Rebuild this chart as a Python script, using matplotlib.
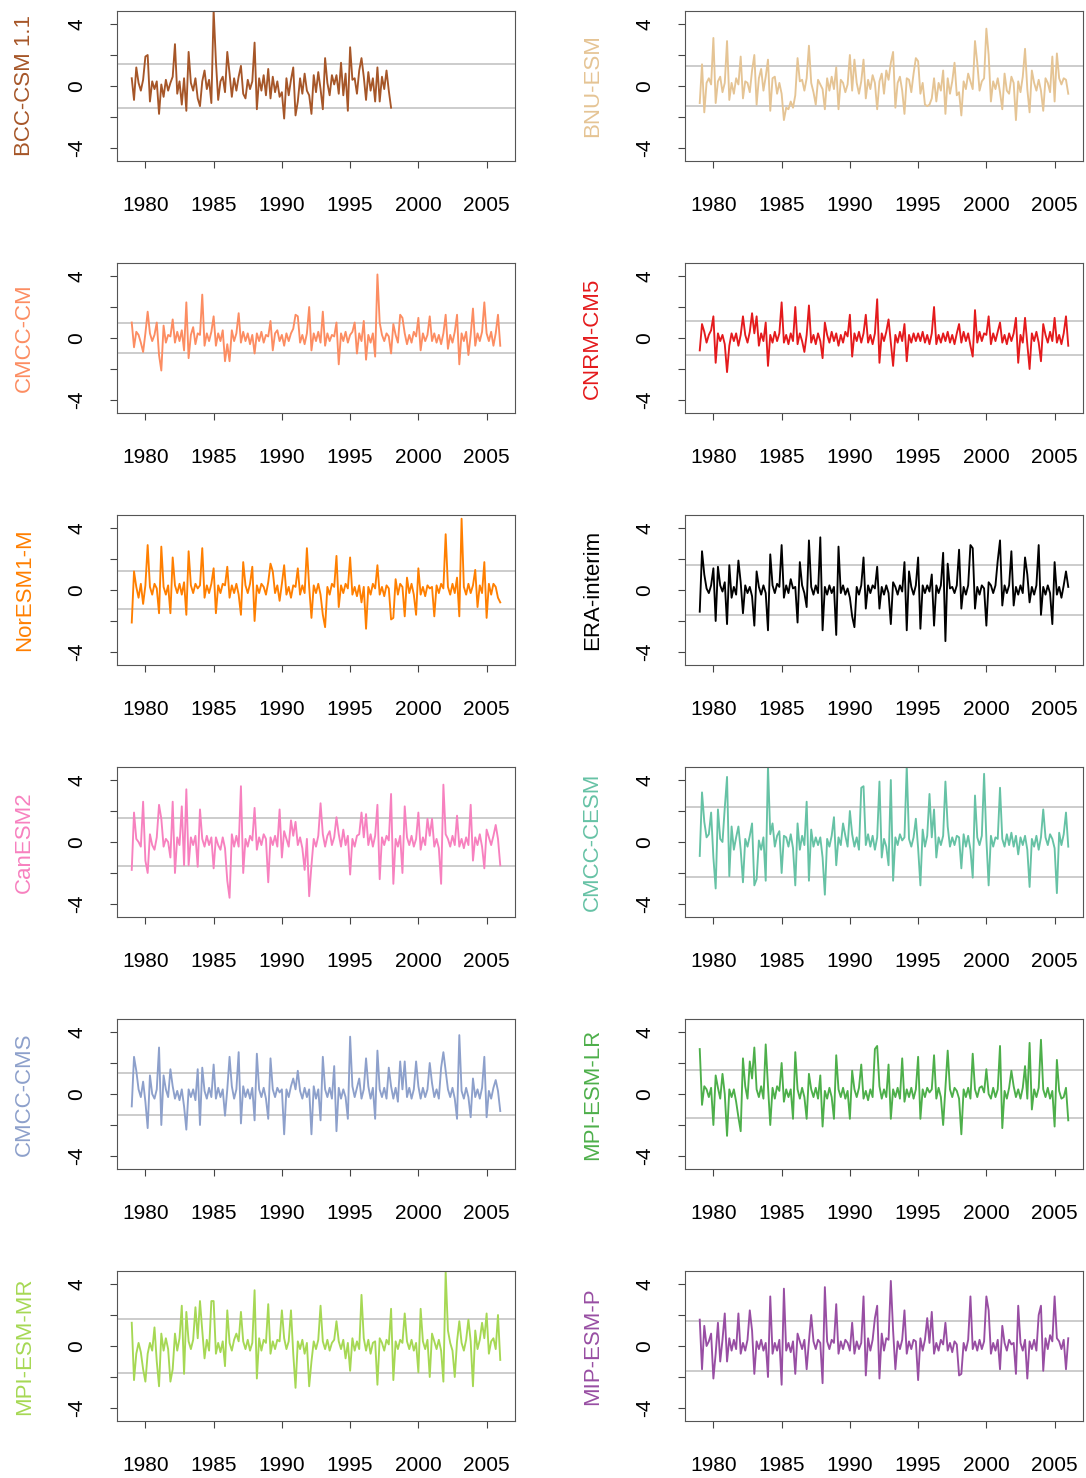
import numpy as np
import matplotlib
matplotlib.use('Agg')
import matplotlib.pyplot as plt

plt.rcParams['font.family'] = ['Liberation Sans', 'DejaVu Sans']

# Time axis: values every 2 months starting January 1979
start_year = 1979
steps_per_year = 6
year_ticks = [1980, 1985, 1990, 1995, 2000, 2005]

models = ['BCC-CSM 1.1', 'BNU-ESM', 'CMCC-CM', 'CNRM-CM5', 'NorESM1-M',
          'ERA-interim', 'CanESM2', 'CMCC-CESM', 'CMCC-CMS', 'MPI-ESM-LR',
          'MPI-ESM-MR', 'MIP-ESM-P']
colors = ['#A65628', '#E5C494', '#FC8D62', '#E41A1C', '#FF7F00', '#000000',
          '#F781BF', '#66C2A5', '#8DA0CB', '#4DAF4A', '#A6D854', '#984EA3']
thresholds = [1.4, 1.32, 1.0, 1.07, 1.25, 1.61,
              1.56, 2.27, 1.38, 1.58, 1.73, 1.63]

bcc = [0.5, -0.9, 1.2, 0.2, -0.3, 0.4, 1.9, 2.0, -1.0, 0.3, -0.2, 0.3,
       -1.8, 0.1, -0.7, 0.4, -0.3, 0.2, 0.6, 2.7, -0.5, 0.3, -1.2, 0.5,
       -1.6, 2.2, 0.2, -0.3, 0.5, -0.8, -1.3, 0.3, 1.0, -0.2, 0.4, -1.1,
       4.9, 1.6, -0.9, 0.3, 0.6, -0.4, 2.2, 0.8, -0.7, 0.5, -0.3, 0.6,
       1.3, -0.5, -0.8, 0.4, -0.2, 0.3, 2.8, -1.5, 0.5, -0.3, 0.7, -0.6,
       1.1, -0.8, 0.6, -0.4, 0.3, -0.7, -0.4, -2.1, 0.5, -0.6, 0.4, 1.2,
       -1.9, -1.0, 0.5, -0.5, 0.8, -0.3, -0.6, -1.8, 0.7, -0.4, 0.9, -0.2,
       -1.5, 1.8, 0.2, -0.6, 0.7, 0.1, 0.7, -0.5, 1.5, -0.6, 0.8, -1.6,
       2.5, 0.4, 0.5, -0.5, 1.0, 1.8, 0.6, -0.9, 0.9, -0.3, 0.5, -1.0,
       1.2, -1.0, 0.6, -0.2, 1.0, -0.3, -1.4]

bnu = [-1.1, 1.4, -1.7, 0.2, 0.5, 0.1, 3.1, -1.1, 0.3, 0.6, -0.4, 0.2,
       2.9, -0.9, 0.2, -0.5, 0.5, 0.1, 1.9, -0.8, 0.3, 0.2, -0.4, 1.0,
       2.0, -1.2, 0.5, 1.1, -0.3, 0.6, 1.7, -1.6, 0.5, 0.6, -0.5, 0.2,
       -0.5, -2.2, -1.4, -1.5, -1.0, -1.4, -0.6, 1.8, 0.3, 0.4, -0.3, 0.5,
       2.6, 0.2, -0.4, -1.2, 0.4, 0.1, -0.2, -1.5, 0.5, -0.3, 0.6, -0.2,
       1.2, -1.5, 0.4, 0.2, -0.4, 0.1, 2.0, -0.3, 1.7, 0.2, -0.5, 0.3,
       1.7, -0.8, 0.4, -0.2, 0.7, 0.2, -1.5, 0.3, 0.8, -0.5, 1.0, 0.4,
       1.5, 2.2, -1.4, 0.2, 0.6, -0.3, -1.8, 0.5, 0.4, -0.4, 0.8, 1.8,
       1.6, -0.5, 0.2, -1.2, -1.3, -1.2, -0.8, 0.5, -1.0, 0.2, -0.3, 1.0,
       -1.8, 0.5, -0.5, 0.3, 1.5, -0.6, -0.4, -1.9, 0.3, -0.2, 0.8, 0.3,
       -0.2, 2.9, 1.5, -0.3, 0.3, 0.5, 3.7, 2.0, -1.0, 0.3, -0.2, 0.5,
       -0.4, -1.5, 0.8, -0.3, -0.5, 0.6, 0.2, -2.2, 0.3, -0.4, 0.6, 2.4,
       -0.2, -1.7, 1.0, 0.2, -0.3, 0.4, -0.3, -1.6, 0.5, 0.2, -0.4, 1.9,
       -1.0, 2.1, 0.5, 0.1, 0.5, 0.4, -0.5]

cmcc_cm = [1.0, -0.6, 0.4, 0.2, -0.3, -0.9, 0.3, 1.7, 0.3, -0.2, 0.2, 1.0,
           -1.1, -2.1, 0.8, -0.3, 0.2, 0.1, 1.2, -0.3, 0.4, -0.2, 0.5, -0.8,
           2.3, -1.3, 0.2, 0.7, -0.4, 0.3, 0.2, 2.8, -0.5, 0.3, -0.2, 0.4,
           1.4, -0.5, 0.3, -0.2, 0.5, -1.5, -0.4, -1.5, 0.5, -0.2, 0.3, 1.6,
           -0.3, 0.4, -0.2, 0.3, -0.4, 0.2, -1.0, 0.3, -0.2, 0.4, -0.3, 0.2,
           0.1, 1.1, -0.8, 0.3, 0.5, -0.2, 0.2, -0.5, 0.3, -0.2, 0.3, 0.6,
           1.5, 1.4, -0.3, 0.2, -0.4, 0.3, 2.0, -0.8, 0.3, -0.2, 0.4, -0.3,
           1.7, -0.5, 0.3, -0.2, 0.2, 0.1, 1.0, -1.7, 0.3, -0.2, 0.4, -0.3,
           0.2, 0.4, 1.0, -1.0, 0.3, -0.2, 1.1, -1.4, 0.2, -0.3, 0.3, -1.2,
           4.1, 1.0, 0.2, -0.2, 0.3, 0.1, -1.0, 0.9, 0.2, -0.3, 1.5, 1.3,
           0.3, -0.4, 0.2, -0.3, 0.4, 0.1, 1.3, -0.8, 0.3, -0.2, 0.2, 1.4,
           -0.2, 0.3, -0.3, 0.2, -0.4, 0.3, 1.5, -0.7, 0.2, -0.3, 0.4, 1.5,
           -1.7, 0.3, -0.2, 0.4, -1.1, 0.2, 1.9, -0.5, 0.3, -0.2, 0.4, 2.3,
           0.3, -0.2, 0.4, -0.5, 0.3, 1.5, -0.5]

cnrm = [-0.8, 0.9, 0.4, -0.3, 0.2, 0.5, 1.4, -1.6, 0.3, -0.2, 0.2, -0.4,
        -2.2, -0.5, 0.3, -0.2, 0.3, -0.5, 0.2, 1.4, 0.2, -0.3, 0.4, 1.6,
        0.3, 1.4, -0.5, 0.3, -0.2, 1.0, -1.8, 0.2, -0.3, 0.4, -0.2, 0.3,
        2.3, -0.3, 0.2, -0.4, 0.3, -0.2, 2.0, -0.4, 0.3, -0.2, -0.9, 0.2,
        2.1, -0.3, 0.2, -0.4, 0.3, -0.2, -1.3, 1.0, 0.2, -0.3, 0.4, -0.2,
        0.3, -0.5, 0.2, -0.3, 0.4, 0.1, 1.5, -1.2, 0.3, -0.2, 0.4, -0.3,
        0.3, 1.5, -0.3, 0.2, -0.4, 0.3, 2.5, -1.6, 0.3, -0.2, 0.4, 1.2,
        -0.3, -1.8, 0.2, -0.3, 0.4, -0.2, 0.9, -1.5, 0.2, -0.3, 0.3, -0.2,
        0.3, -0.2, 0.4, -0.3, 0.2, -0.4, 0.3, 2.0, -0.4, 0.2, -0.3, 0.3,
        -0.2, 0.4, -0.3, 0.2, -0.4, 0.3, 0.9, -0.3, 0.4, -0.2, 0.3, -0.5,
        -1.2, 1.8, -0.3, 0.4, -0.2, 0.3, 0.2, 1.4, -0.4, 0.3, -0.2, 0.4,
        1.0, -0.3, 0.2, -0.4, 0.3, -0.2, 0.3, 1.3, -1.6, 0.2, -0.3, 1.3,
        -0.4, -2.0, 0.3, -0.2, 0.4, -0.3, -1.5, 0.9, 0.2, -0.3, 0.4, -0.2,
        1.3, -0.3, 0.2, -0.4, 0.3, 1.4, -0.5]

noresm = [-2.1, 1.2, 0.2, -0.5, 0.4, -0.9, 0.3, 2.9, 0.2, -0.3, 0.4, 0.1,
          -1.5, 2.8, 0.2, -0.3, 0.3, -1.5, 2.1, 0.3, -0.2, 0.4, -0.3, 0.5,
          -1.6, 2.5, 0.3, -0.2, 0.4, 0.1, 0.3, 2.7, -0.5, 0.3, -0.2, 0.4,
          1.4, -1.5, 0.3, -0.2, 0.4, 0.3, 1.5, -0.5, 0.3, -0.2, 0.4, -0.3,
          -1.6, 1.8, 0.3, -0.2, 0.4, 1.5, -2.0, 0.3, -0.2, 0.4, 0.2, -0.3,
          0.5, 1.7, 1.2, -0.2, 0.3, -0.7, 0.4, 1.6, -0.3, 0.2, -0.5, 0.3,
          0.2, 1.4, -0.3, 0.3, -0.2, 2.7, 0.2, -1.8, 0.3, -0.2, 0.4, -0.3,
          -1.6, -2.4, 0.2, -0.3, 0.4, 0.2, 2.2, -1.1, 0.3, -0.2, 0.4, 0.1,
          2.1, -0.3, 0.2, -0.4, 0.3, -0.8, 0.2, -2.5, 0.2, -0.3, 0.4, 0.1,
          1.6, -0.3, 0.2, -0.4, 0.3, 0.1, -1.9, -1.8, 0.7, -0.3, 0.4, 0.2,
          -1.7, 0.8, -0.2, 0.4, -0.3, -1.6, 1.4, -0.3, 0.2, -0.4, 0.3, 0.1,
          0.2, -1.7, 0.3, -0.2, 0.4, 0.1, 3.6, 0.2, -0.3, 0.4, -0.2, 0.8,
          -1.7, 4.6, 0.2, -0.3, 0.4, -0.2, 0.3, 1.3, -1.1, 0.3, -0.2, 1.8,
          -1.8, 0.4, -0.3, 0.4, 0.2, -0.5, -0.8]

era = [-1.4, 2.5, 1.0, 0.1, -0.2, 0.3, 1.4, -2.0, 1.5, 0.3, -0.1, 0.5,
       -2.2, 1.6, -0.5, 0.2, -0.3, 1.9, 0.5, -1.5, 0.3, -0.2, 0.2, -0.4,
       -2.3, 1.2, 0.2, -0.3, 0.3, -0.2, -2.6, 2.3, 0.3, -0.2, 0.4, 0.2,
       2.9, -0.5, 0.3, -0.2, 0.7, 0.1, 0.2, -2.1, 1.8, 0.3, -0.2, -1.1,
       3.2, 0.2, -0.3, 0.3, -0.2, 3.4, -2.6, 0.2, -0.3, 0.3, -0.2, 0.2,
       -2.9, 2.8, -0.2, 0.3, -0.3, 0.1, -0.5, -1.7, -2.4, 0.2, -0.3, 0.3,
       2.1, -1.2, 0.3, -0.2, 0.3, 0.1, 1.5, -1.2, 0.2, -0.3, 0.3, -0.2,
       -2.2, 0.5, 0.2, -0.3, 0.3, -0.1, 1.8, -2.6, 1.2, 0.2, -0.3, 0.3,
       2.1, -2.5, 0.3, -0.2, 0.3, -0.1, 1.0, -2.3, 0.3, -0.2, 0.3, 2.4,
       -3.3, 1.7, 0.1, 0.2, -0.2, 0.3, 2.6, -1.2, 0.2, -0.3, 0.3, 2.9,
       2.7, -1.2, 0.2, -0.3, 0.3, 0.1, -2.3, 0.5, 0.3, -0.2, 0.3, 1.9,
       3.2, -1.0, 0.3, -0.2, 0.3, 2.5, -1.0, 0.2, -0.3, 0.3, -0.2, 2.1,
       1.0, -0.8, 0.2, -0.3, 0.3, 2.9, -1.6, 0.2, -0.3, 0.3, -0.2, -2.2,
       1.8, -0.3, 0.2, -0.5, 0.3, 1.2, 0.2]

canesm = [-1.8, 1.9, 0.2, 0.0, -0.3, 2.6, -1.2, -2.0, 0.5, -0.2, -0.5, 0.3,
          2.4, 1.5, -0.3, 0.2, 0.0, -1.0, 2.6, -2.0, 0.3, -0.2, 2.3, -1.5,
          3.4, -1.5, 0.3, -0.2, 0.4, -1.6, 2.1, 0.2, -0.3, 0.4, -0.2, 0.3,
          -1.7, 0.3, -0.2, -0.5, 0.3, -0.4, -2.5, -3.6, 0.5, -0.3, 0.4, -0.3,
          3.6, -2.0, 0.2, -0.3, 0.4, 0.1, 2.2, -0.5, 0.3, -0.2, 0.5, 0.2,
          -2.6, 0.3, -0.2, 0.4, -0.3, 2.1, -1.0, 0.7, 0.2, -0.3, 1.4, 0.4,
          1.3, -0.2, 0.3, -0.4, -1.8, 0.2, -3.5, -1.5, 0.2, -0.3, 0.4, 2.5,
          0.5, -0.3, 0.4, 0.7, -0.2, 0.3, 1.6, 0.5, -0.3, 0.8, -0.2, 0.4,
          -2.1, 0.2, -0.3, 0.4, 0.5, 1.9, 0.3, 1.8, -0.2, 0.5, -0.3, 0.4,
          2.4, -2.4, 0.3, -0.2, 0.4, 0.1, 3.1, -2.7, 0.2, -0.3, 0.4, -2.0,
          2.3, 0.3, -0.2, 0.4, -0.3, 0.2, 1.9, -0.5, 0.3, -0.2, 1.5, 0.4,
          1.5, -0.3, 0.2, -0.4, -2.7, 3.7, 0.5, 0.2, -0.3, 0.4, -0.2, 1.7,
          -0.3, 0.2, -0.4, 0.3, -0.2, 2.4, -1.2, 0.3, -0.2, 0.5, -0.3, -1.7,
          0.8, 0.3, -0.2, 0.4, 1.1, 0.2, -1.5]

cmcc_cesm = [-0.9, 3.2, 1.3, 0.3, 0.5, 1.9, -1.0, -3.0, 2.1, 0.2, 0.0, 2.2,
             4.2, -2.2, 1.0, -0.5, 0.3, 1.0, -0.5, -2.6, 0.2, -0.3, 0.4, 1.2,
             -2.8, -2.4, 0.1, -0.5, 0.3, -2.5, 4.9, 0.5, 1.2, -0.3, 0.4, 0.7,
             -2.0, 0.4, 0.3, -0.3, 0.5, -0.4, -2.8, 1.2, -0.5, 0.4, -0.2, 2.6,
             -2.5, 0.8, -0.3, 0.3, -0.2, 0.3, -1.0, -3.4, 0.2, -0.3, 0.4, 1.6,
             -1.5, 0.3, -0.2, 1.2, 0.4, -0.3, 2.0, 0.5, -0.3, 0.3, -0.5, 3.5,
             3.6, -0.2, 0.5, -0.3, 0.4, -0.5, 0.3, 3.9, -1.0, 0.2, -0.3, -1.5,
             4.0, -2.5, 0.3, -0.2, 0.5, 0.1, 0.3, 4.9, 0.2, -0.3, 0.3, 1.5,
             -0.4, -2.8, 0.8, -0.3, 0.4, 3.1, 0.3, 2.1, -1.0, 0.3, -0.2, 0.4,
             3.9, 1.0, -0.3, 0.3, -0.2, 0.4, 0.3, -1.7, 0.5, -0.3, 0.4, -0.5,
             -2.3, 3.0, 0.3, -0.2, 0.4, 4.4, 0.2, -2.8, 0.4, -0.3, 0.3, 0.2,
             3.5, 0.2, -0.3, 0.5, -0.2, 0.6, -0.3, 0.4, -0.8, 0.3, -0.2, 0.4,
             -0.5, -2.9, 0.2, -0.3, 0.4, -0.5, 0.3, 2.1, 0.3, -0.2, 0.5, 0.2,
             -0.4, -3.3, 0.6, -0.2, 0.5, 1.9, -0.3]

cmcc_cms = [-0.8, 2.4, 1.5, 0.3, -0.2, 0.8, -0.5, -2.2, 1.2, 0.0, -0.3, 0.3,
            3.0, -2.0, 1.2, 0.3, -0.2, 1.6, 0.5, -0.3, 0.2, -0.4, 0.3, -0.8,
            -2.3, 0.3, -0.2, 0.3, -0.4, 1.6, -2.0, 1.7, 0.2, -0.3, 0.4, -0.2,
            1.9, -0.3, 0.4, -0.2, 0.3, -1.4, 0.3, 2.4, 0.5, -0.3, 0.3, 2.7,
            -1.9, 0.5, -0.2, 0.3, -0.3, 0.4, -1.7, 2.6, 0.3, -0.2, 0.4, -0.3,
            -1.6, 2.3, 0.3, -0.2, 0.4, 0.1, 0.3, -2.6, 0.3, -0.2, 0.5, 1.0,
            0.3, 1.5, 0.2, -0.3, 0.4, -0.2, 0.3, -2.6, 0.5, -0.3, 0.3, -1.7,
            2.4, 0.3, -0.2, 0.4, -0.3, 1.8, -2.4, 0.4, -0.3, 0.3, -0.2, -1.6,
            3.7, 0.5, -0.2, 0.4, 1.0, -0.3, 0.3, 2.3, 0.5, -0.3, 0.4, -1.6,
            2.8, 0.3, -0.2, 0.4, -0.3, 1.7, 0.5, -0.3, 0.4, -0.5, 2.1, 0.3,
            2.1, -0.2, 0.4, -0.3, 0.3, 2.1, 0.5, -0.3, 0.4, -0.2, 0.3, 2.0,
            0.7, -0.2, 0.3, -0.3, 1.7, 2.7, 1.5, 0.3, -0.2, 0.4, -0.3, -1.6,
            3.8, 0.2, -0.3, 0.4, -0.2, -1.5, 1.0, -0.2, 0.3, -0.3, 0.4, 2.4,
            -1.5, 0.2, -0.3, 0.4, 0.9, 0.2, -1.1]

mpi_lr = [2.9, -0.7, 0.5, 0.3, -0.2, 0.4, -2.0, 1.2, 0.4, -0.3, 1.3, 0.0,
          -2.7, 0.3, -0.2, 0.3, -0.5, -1.5, -2.4, 2.3, 0.5, -0.3, 2.1, 1.0,
          3.0, 0.3, -0.2, 0.5, -0.3, 3.2, 0.5, -2.0, 0.4, -0.3, 0.5, 0.2,
          2.0, -0.5, 0.3, -0.2, 0.3, -1.6, 2.7, 0.3, -0.3, 0.4, -0.2, -1.6,
          1.3, 0.3, -0.2, 0.4, -0.3, 1.2, -2.1, 0.2, -0.3, 0.4, -0.2, -1.6,
          2.5, 0.3, -0.2, 0.4, -0.3, 0.2, -1.6, 1.5, 0.3, -0.2, 0.4, 1.9,
          -0.3, 0.2, -0.4, 0.3, -0.2, 2.9, 3.1, 0.5, -0.3, 0.3, -0.2, 1.9,
          -1.6, 0.3, -0.2, 0.4, -0.3, 2.3, -0.5, 0.3, -0.2, 0.4, -0.3, 0.3,
          2.4, -1.6, 0.3, -0.2, 0.4, 0.1, 0.3, 2.5, -0.3, 0.4, -0.2, -2.0,
          0.4, 2.8, 0.3, -0.2, 0.4, 0.2, -0.3, -2.6, 0.3, -0.2, 0.4, -0.3,
          2.6, 0.3, -0.2, 0.4, 0.5, 0.1, 1.6, 0.0, -0.3, 0.4, -0.2, 0.3,
          3.1, -2.2, 0.2, -0.3, 0.4, 1.5, 0.5, -0.2, 0.3, -0.3, 0.4, 1.8,
          -0.3, 3.3, -1.0, 0.3, -0.2, 0.4, 3.5, 0.3, -0.2, 0.4, -0.3, 0.2,
          -2.1, 2.2, 0.2, -0.3, -0.2, 0.4, -1.7]

mpi_mr = [1.5, -2.2, -0.5, 0.2, -0.4, -1.5, -2.3, -0.5, 0.2, -0.3, 1.2, -1.0,
          -2.6, 0.8, -0.3, 0.5, -0.2, -2.3, -1.5, 0.8, -0.3, 0.5, 2.6, -1.8,
          2.2, 0.3, -0.2, 0.4, 2.5, 0.5, 2.9, 1.0, -0.8, 0.4, -0.3, 2.9,
          2.9, -0.5, 0.2, -0.4, 0.3, -1.3, 2.3, 0.2, -0.3, 0.4, 0.8, 0.3,
          2.2, 0.3, -0.2, 0.4, -0.3, 0.2, 3.6, -2.1, 0.5, -0.3, 0.4, 0.2,
          2.7, -0.5, 0.3, -0.2, 0.4, 0.3, 2.3, 0.5, -0.2, 0.3, 2.3, -0.5,
          -2.7, 0.3, -0.2, 0.4, -0.5, 0.2, -2.6, -1.0, 0.3, -0.2, 0.4, 2.6,
          0.3, -0.2, 0.4, -0.3, 0.2, 0.4, 1.6, 0.3, -0.2, 0.4, -0.8, 0.2,
          -1.6, 0.5, -0.3, 0.3, -0.2, 3.3, 0.5, -0.3, 0.4, -0.5, 0.2, 0.3,
          -2.5, 0.5, 0.2, -0.3, 0.4, 0.1, 2.4, -2.2, 0.3, -0.2, 0.4, 0.2,
          2.1, 0.3, -0.2, 0.4, -0.3, 0.2, -1.7, 2.4, 0.3, -0.2, 0.4, -2.0,
          0.8, 0.3, -0.2, 0.4, -0.3, -2.3, 4.8, 1.0, 0.2, -0.3, -2.0, 0.3,
          1.6, 0.2, -0.3, 0.4, 1.7, 0.3, -2.6, 1.0, -0.2, 0.4, 1.5, 0.5,
          2.1, -0.5, 0.3, 0.5, -0.2, 2.0, -0.9]

mip_p = [1.7, -1.5, 1.3, 0.0, 0.3, 0.8, -2.1, -0.5, 1.5, -1.0, 0.4, 2.1,
         -1.0, 0.5, -0.3, 0.4, -0.2, 2.1, -0.5, 0.2, -0.3, 0.4, 2.3, 1.0,
         -1.8, 0.3, -0.2, 0.4, -0.3, 0.2, -2.0, 3.2, -0.5, 0.2, -0.3, 0.4,
         -2.5, 3.7, -0.3, 0.2, -0.4, 0.3, -1.8, 0.8, 0.3, -0.2, 0.4, -1.5,
         0.3, 2.0, 0.3, -0.2, 0.4, 0.2, -2.4, 3.8, 0.3, -0.2, 0.4, 0.2,
         2.7, -0.5, 0.3, -0.2, 0.4, 0.2, -0.3, 1.5, -0.5, 0.3, -0.2, 0.2,
         3.2, -1.9, 0.5, -0.3, 0.4, 1.8, 2.6, -2.1, 0.8, -0.3, 0.5, 0.4,
         4.2, 1.0, -1.5, 0.3, -0.2, 0.4, 2.3, -0.5, 0.3, -0.2, 0.4, 0.3,
         -2.2, 0.5, -0.3, 0.4, 1.8, 0.2, 2.2, -0.5, 0.2, -0.3, 0.4, 0.1,
         1.5, -0.3, 0.2, -0.4, 0.3, 0.1, -1.9, -1.8, 0.2, -0.3, 0.4, 3.2,
         -0.2, 0.3, -0.3, 0.4, -0.2, 0.3, 3.2, 2.3, -0.5, 0.2, -0.3, 0.4,
         -1.5, 1.3, 0.2, -0.3, 0.4, 0.1, 0.2, -1.8, 2.6, 0.2, -0.3, 0.4,
         -2.1, 0.3, -0.2, 0.4, -0.3, 2.0, 2.6, -1.6, 0.5, -0.2, 0.7, 0.3,
         3.2, 0.5, 0.3, -0.2, 0.4, -1.5, 0.5]

series = [bcc, bnu, cmcc_cm, cnrm, noresm, era,
          canesm, cmcc_cesm, cmcc_cms, mpi_lr, mpi_mr, mip_p]

# Figure with fixed pixel layout (6 rows x 2 columns)
W, H = 1086, 1478
fig = plt.figure(figsize=(W / 100, H / 100), dpi=100)

for k, name in enumerate(models):
    row, col = divmod(k, 2)
    left = (117 if col == 0 else 685) / W
    bottom = 1 - (161 + 252 * row) / H
    ax = fig.add_axes([left, bottom, 398 / W, 150 / H])

    vals = np.array(series[k])
    t = start_year + np.arange(len(vals)) / steps_per_year

    # Threshold lines
    ax.axhline(thresholds[k], color='#c8c8c8', lw=1.3, zorder=1)
    ax.axhline(-thresholds[k], color='#c8c8c8', lw=1.3, zorder=1)

    ax.plot(t, vals, color=colors[k], lw=1.35, zorder=2)

    ax.set_xlim(1977.92, 2007.08)
    ax.set_ylim(-4.84, 4.84)
    ax.set_xticks(year_ticks)
    ax.set_yticks([-4, -2, 0, 2, 4])
    ax.set_yticklabels(['-4', '', '0', '', '4'])
    ax.tick_params(direction='out', length=5, width=0.8, color='#444444',
                   labelsize=15)
    ax.tick_params(axis='x', pad=20.5)
    ax.tick_params(axis='y', pad=17)
    for lab in ax.get_yticklabels():
        lab.set_rotation(90)
        lab.set_va('center')
    for sp in ax.spines.values():
        sp.set_color('#555555')
        sp.set_linewidth(0.8)

    # Model name as y label
    ax.text(-0.232, 0.5, name, transform=ax.transAxes, rotation=90,
            ha='center', va='center', color=colors[k], fontsize=16)

fig.savefig('out.png', dpi=100)
